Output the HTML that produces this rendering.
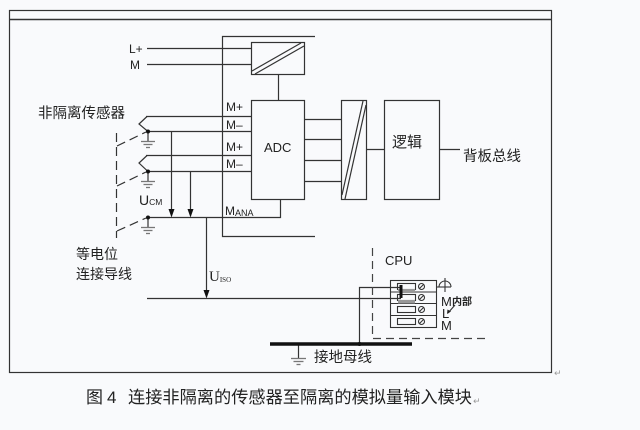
<!DOCTYPE html>
<html><head><meta charset="utf-8"><style>
html,body{margin:0;padding:0;background:#f9fafc;}
svg{display:block;}
.t{font-family:"Liberation Sans","Noto Sans CJK SC",sans-serif;fill:#222;}
</style></head><body>
<svg width="640" height="430" viewBox="0 0 640 430" xmlns="http://www.w3.org/2000/svg">
<rect width="640" height="430" fill="#f9fafc"/>
<g stroke="#333" fill="none" stroke-width="1.2">
<!-- frame -->
<rect x="9.5" y="10.5" width="542" height="362"/>
<line x1="9.5" y1="19.5" x2="551.5" y2="19.5" stroke-width="1.6"/>
<!-- module bracket -->
<path d="M315,36.5 H222.5 V236.5 H315"/>
<!-- converter -->
<rect x="251.5" y="42.5" width="53" height="32"/>
<line x1="252" y1="71" x2="301" y2="43"/>
<line x1="255" y1="74" x2="304" y2="46"/>
<line x1="147" y1="48.5" x2="251.5" y2="48.5"/>
<line x1="147" y1="64.5" x2="251.5" y2="64.5"/>
<line x1="278.5" y1="74.5" x2="278.5" y2="100.5"/>
<!-- ADC -->
<rect x="251.5" y="100.5" width="53" height="99"/>
<line x1="146" y1="116.5" x2="251.5" y2="116.5"/>
<line x1="148" y1="131.5" x2="251.5" y2="131.5"/>
<line x1="146" y1="155.5" x2="251.5" y2="155.5"/>
<line x1="148" y1="171.5" x2="251.5" y2="171.5"/>
<path d="M148,217.5 H280.5 V199.5"/>
<!-- sensors -->
<polyline points="147,116.5 139,124 148,131.5"/>
<polyline points="147,155.5 139,163 148,171.5"/>
<line x1="148" y1="131.5" x2="148" y2="141"/>
<line x1="148" y1="171.5" x2="148" y2="181"/>
<line x1="148" y1="217.5" x2="148" y2="227"/>
</g>
<g stroke="#777" stroke-width="1.3">
<line x1="141" y1="141.5" x2="155" y2="141.5"/><line x1="143.5" y1="144.5" x2="152.5" y2="144.5"/><line x1="146" y1="147.5" x2="150" y2="147.5"/>
<line x1="141" y1="181.5" x2="155" y2="181.5"/><line x1="143.5" y1="184.5" x2="152.5" y2="184.5"/><line x1="146" y1="187.5" x2="150" y2="187.5"/>
<line x1="141" y1="227.5" x2="155" y2="227.5"/><line x1="143.5" y1="230.5" x2="152.5" y2="230.5"/><line x1="146" y1="233.5" x2="150" y2="233.5"/>
</g>
<g fill="#111">
<circle cx="148" cy="131.5" r="2"/><circle cx="148" cy="171.5" r="2"/><circle cx="148" cy="217.5" r="2"/>
</g>
<!-- dashed equipotential -->
<g stroke="#333" stroke-width="1.2" fill="none" stroke-dasharray="9,5">
<line x1="116.5" y1="133" x2="116.5" y2="238"/>
<line x1="117" y1="146" x2="146" y2="132"/>
<line x1="117" y1="186" x2="146" y2="172"/>
<line x1="117" y1="231" x2="146" y2="218"/>
</g>
<!-- UCM arrows -->
<g stroke="#333" stroke-width="1.2">
<line x1="171.5" y1="131.5" x2="171.5" y2="211"/>
<line x1="190.5" y1="171.5" x2="190.5" y2="211"/>
<line x1="206.5" y1="217.5" x2="206.5" y2="291"/>
</g>
<g fill="#111">
<polygon points="168.5,209 174.5,209 171.5,217.5"/>
<polygon points="187.5,209 193.5,209 190.5,217.5"/>
<polygon points="203.5,290 209.5,290 206.5,298.5"/>
</g>
<!-- right chain -->
<g stroke="#333" fill="none" stroke-width="1.2">
<line x1="304.5" y1="119.5" x2="341.5" y2="119.5"/>
<line x1="304.5" y1="139.5" x2="341.5" y2="139.5"/>
<line x1="304.5" y1="160.5" x2="341.5" y2="160.5"/>
<line x1="304.5" y1="181.5" x2="341.5" y2="181.5"/>
<rect x="341.5" y="100.5" width="25" height="99"/>
<line x1="342" y1="195" x2="363" y2="101"/>
<line x1="345" y1="199" x2="366" y2="105"/>
<line x1="366.5" y1="149.5" x2="384.5" y2="149.5"/>
<rect x="384.5" y="100.5" width="55" height="99"/>
<line x1="439.5" y1="149.5" x2="460" y2="149.5"/>
<!-- Uiso bus and ground -->
<line x1="147" y1="298.5" x2="401" y2="298.5"/>
<path d="M401,287.5 H359.5 V344"/>
<line x1="298.5" y1="344" x2="298.5" y2="358"/>
</g>
<line x1="270" y1="344" x2="412" y2="344" stroke="#111" stroke-width="3.5"/>
<circle cx="359.5" cy="344" r="2" fill="#111"/>
<g stroke="#777" stroke-width="1.3">
<line x1="291" y1="358.5" x2="306" y2="358.5"/><line x1="293.5" y1="361.5" x2="303.5" y2="361.5"/><line x1="296.5" y1="364.5" x2="300.5" y2="364.5"/>
</g>
<!-- CPU dashed -->
<path d="M372.5,248 V338.5 H487" stroke="#444" stroke-width="1.2" fill="none" stroke-dasharray="8,5"/>
<!-- terminal block -->
<g stroke="#333" fill="none" stroke-width="1.1">
<rect x="390.5" y="280.5" width="46" height="47"/>
<line x1="390.5" y1="292" x2="436.5" y2="292"/>
<line x1="390.5" y1="303.5" x2="436.5" y2="303.5"/>
<line x1="390.5" y1="315.5" x2="436.5" y2="315.5"/>
<rect x="397.5" y="283.5" width="18" height="6"/>
<rect x="397.5" y="294.5" width="18" height="6"/>
<rect x="397.5" y="306.5" width="18" height="6"/>
<rect x="397.5" y="318.5" width="18" height="6"/>
<circle cx="421.5" cy="286.5" r="3"/><circle cx="421.5" cy="297.5" r="3"/><circle cx="421.5" cy="309.5" r="3"/><circle cx="421.5" cy="321.5" r="3"/>
<line x1="419.5" y1="288.5" x2="423.5" y2="284.5"/><line x1="419.5" y1="299.5" x2="423.5" y2="295.5"/><line x1="419.5" y1="311.5" x2="423.5" y2="307.5"/><line x1="419.5" y1="323.5" x2="423.5" y2="319.5"/>
<!-- earth symbol -->
<line x1="436.5" y1="287" x2="451" y2="287"/>
<path d="M439,287 A6,6 0 0 1 451,287"/>
<line x1="445" y1="278" x2="445" y2="292"/>
<path d="M455,305 L448,313"/>
</g>
<rect x="398" y="289" width="17" height="4" fill="#999"/>
<rect x="398" y="300" width="17" height="3.5" fill="#999"/>
<rect x="399.5" y="285" width="3" height="13" fill="#111"/>
<polygon points="447,314 447.5,309.5 451,311.5" fill="#222"/>
<!-- texts -->
<text class="t" x="129" y="53" font-size="12">L+</text>
<text class="t" x="130" y="69" font-size="12">M</text>
<text class="t" x="226" y="111" font-size="12">M+</text>
<text class="t" x="226" y="129" font-size="12">M–</text>
<text class="t" x="226" y="151" font-size="12">M+</text>
<text class="t" x="226" y="168" font-size="12">M–</text>
<text class="t" x="225" y="215" font-size="12">M<tspan font-size="9" dy="1">ANA</tspan></text>
<text class="t" x="264" y="152" font-size="13">ADC</text>
<text class="t" x="38" y="118" font-size="14.5">非隔离传感器</text>
<text class="t" x="139" y="205" font-size="14">U<tspan font-size="8.5" dy="0">CM</tspan></text>
<text class="t" x="76" y="259" font-size="14">等电位</text>
<text class="t" x="76" y="279" font-size="14">连接导线</text>
<text x="209" y="281" font-size="15" font-family="'Liberation Serif',serif" fill="#222">U<tspan font-size="7" dy="1">ISO</tspan></text>
<text class="t" x="392" y="147" font-size="15">逻辑</text>
<text class="t" x="463" y="161" font-size="14.5">背板总线</text>
<text class="t" x="314" y="362" font-size="14.5">接地母线</text>
<text class="t" x="385" y="265" font-size="13">CPU</text>
<text class="t" x="441" y="306" font-size="13">M</text>
<text class="t" x="452" y="305" font-size="10" font-weight="bold">内部</text>
<text class="t" x="442" y="318" font-size="13">L</text>
<text class="t" x="441" y="330" font-size="13">M</text>
<text class="t" x="86" y="403" font-size="17" fill="#333">图</text>
<text class="t" x="107" y="403" font-size="17" fill="#333">4</text>
<text class="t" x="128" y="403" font-size="17" fill="#333" textLength="344" lengthAdjust="spacingAndGlyphs">连接非隔离的传感器至隔离的模拟量输入模块</text>
<text x="473" y="404" font-size="9" fill="#999" font-family="'DejaVu Sans',sans-serif">↵</text>
<text x="554" y="376" font-size="9" fill="#999" font-family="'DejaVu Sans',sans-serif">↵</text>
</svg>
</body></html>
